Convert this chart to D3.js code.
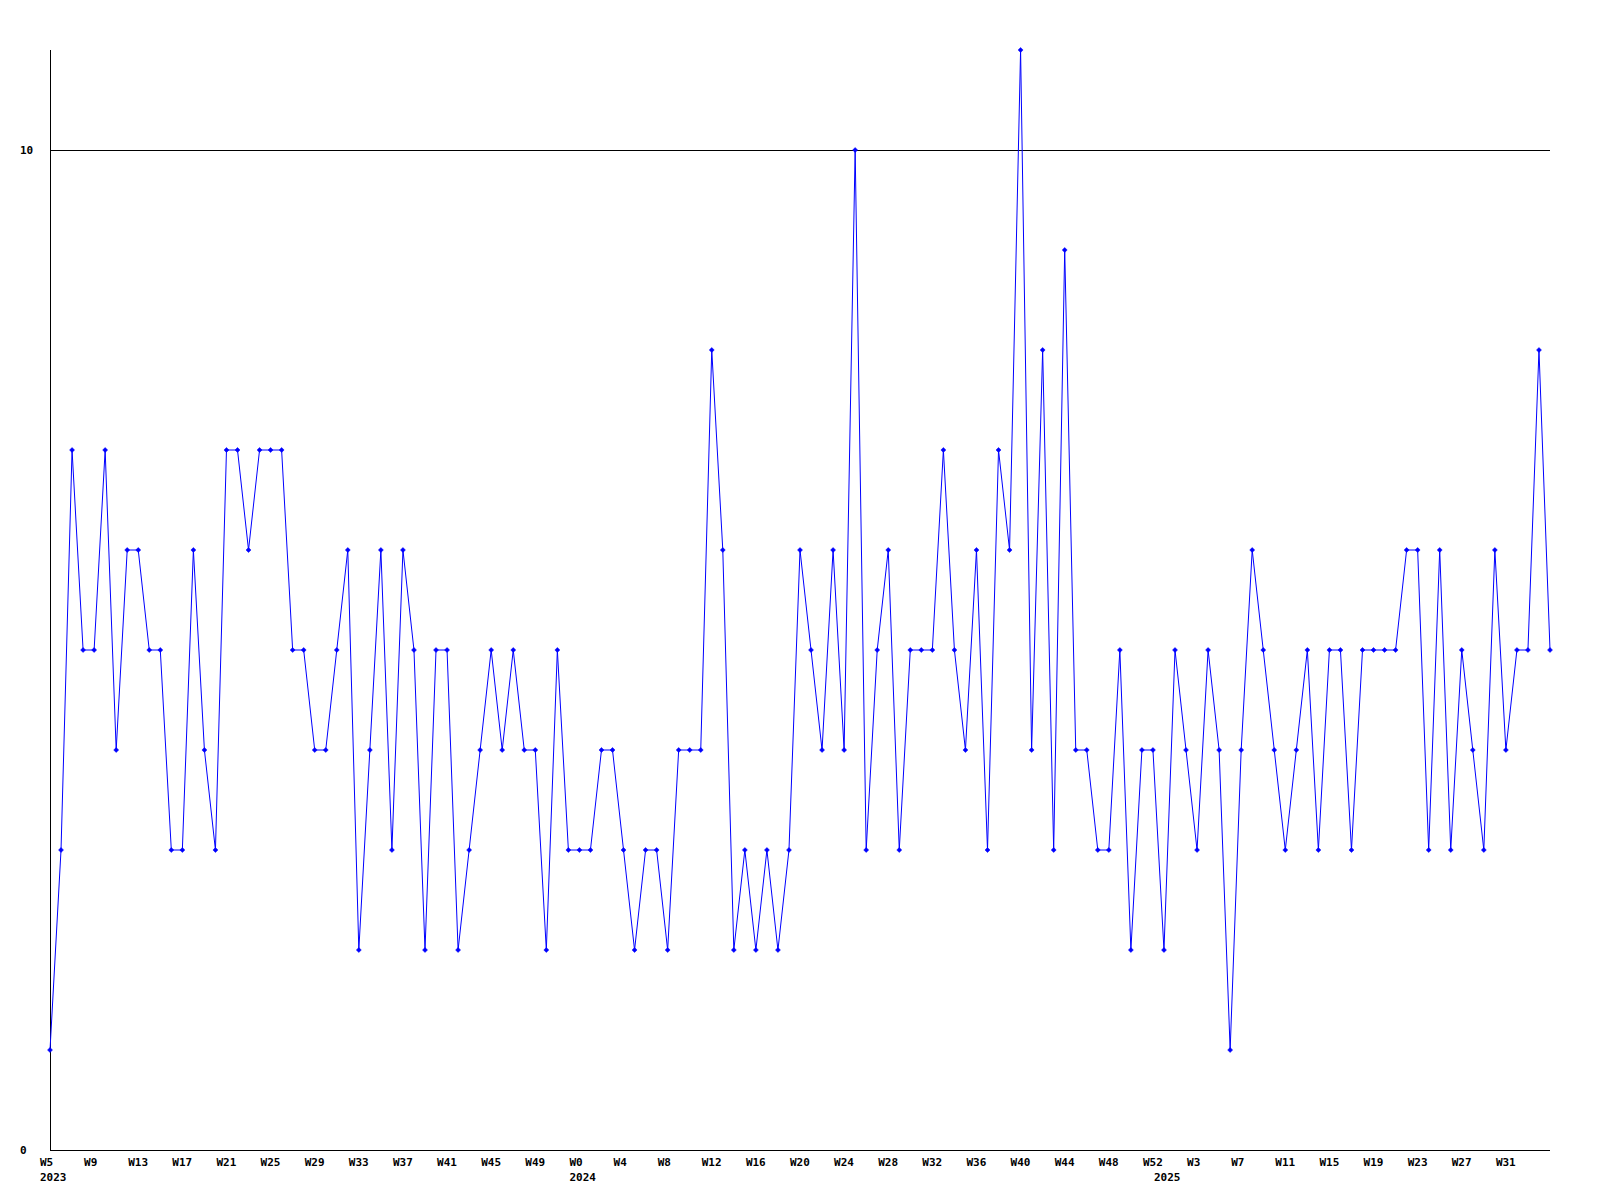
<!DOCTYPE html>
<html>
<head>
<meta charset="utf-8">
<script src="https://cdn.jsdelivr.net/npm/d3@7"></script>
<style>
  html, body { margin: 0; padding: 0; background: #fff; }
  svg { display: block; }
  text { font-family: "DejaVu Sans Mono", "Liberation Mono", monospace; font-weight: bold; font-size: 11px; fill: #000; }
</style>
</head>
<body>
<script>
// ---- Data ----
const years2023Weeks = d3.range(5, 53);   // 2023 W5..W52
const years2024Weeks = d3.range(0, 53);   // 2024 W0..W52
const years2025Weeks = d3.range(0, 36);   // 2025 W0..W35

const weekYears = [].concat(
  years2023Weeks.map(() => 2023),
  years2024Weeks.map(() => 2024),
  years2025Weeks.map(() => 2025)
);
const weekNumbers = [].concat(years2023Weeks, years2024Weeks, years2025Weeks);

const values = [
  // 2023 W5..W52
  1,3,7,5,5,7,4,6,6,5,5,3,3,6,4,3,7,7,6,7,7,7,5,5,4,4,5,6,2,4,6,3,6,5,2,5,5,2,3,4,5,4,5,4,4,2,5,3,
  // 2024 W0..W52
  3,3,4,4,3,2,3,3,2,4,4,4,8,6,2,3,2,3,2,3,6,5,4,6,4,10,3,5,6,3,5,5,5,7,5,4,6,3,7,6,11,4,8,3,9,4,4,3,3,5,2,4,4,
  // 2025 W0..W35
  2,5,4,3,5,4,1,4,6,5,4,3,4,5,3,5,5,3,5,5,5,5,6,6,3,6,3,5,4,3,6,4,5,5,8,5
];

const yTickValues = [0, 10];
const yTickLabels = ["0", "10"];
const xTickEvery = 4;

// ---- Layout ----
const W = 1600, H = 1200;
const mLeft = 50, mRight = 1550, mTop = 50, mBottom = 1150;

const keys = values.map((v, i) => weekYears[i] + "-W" + weekNumbers[i]);

const svg = d3.select("body").append("svg").attr("width", W).attr("height", H);

const x = d3.scalePoint().domain(keys).range([mLeft, mRight]);
const y = d3.scaleLinear().domain([0, 11]).range([mBottom, mTop]);

// gridline at 10
svg.append("g").selectAll("line").data(yTickValues.filter(v => v > 0)).join("line")
  .attr("x1", mLeft).attr("x2", mRight)
  .attr("y1", d => Math.round(y(d)) + 0.5).attr("y2", d => Math.round(y(d)) + 0.5)
  .attr("stroke", "#000").attr("stroke-width", 1).attr("shape-rendering", "crispEdges");

// axes lines
svg.append("line").attr("x1", mLeft + 0.5).attr("x2", mLeft + 0.5).attr("y1", mTop).attr("y2", mBottom + 0.5)
  .attr("stroke", "#000").attr("stroke-width", 1).attr("shape-rendering", "crispEdges");
svg.append("line").attr("x1", mLeft).attr("x2", mRight).attr("y1", mBottom + 0.5).attr("y2", mBottom + 0.5)
  .attr("stroke", "#000").attr("stroke-width", 1).attr("shape-rendering", "crispEdges");

// y labels
svg.append("g").selectAll("text").data(yTickValues).join("text")
  .attr("x", 20).attr("y", d => y(d) + 4)
  .text((d, i) => yTickLabels[i]);

// x labels (last point has no room for a label)
const tickIdx = d3.range(0, keys.length - 1, xTickEvery);
svg.append("g").selectAll("text").data(tickIdx).join("text")
  .attr("x", i => x(keys[i]) - 10).attr("y", mBottom + 16)
  .text(i => "W" + weekNumbers[i]);

// year labels at first week of each year
const yearStarts = keys.map((k, i) => i).filter(i => i === 0 || weekYears[i] !== weekYears[i - 1]);
svg.append("g").selectAll("text").data(yearStarts).join("text")
  .attr("x", i => x(keys[i]) - 10).attr("y", mBottom + 31)
  .text(i => weekYears[i]);

// line
const line = d3.line().x((d, i) => x(keys[i])).y(d => y(d));
svg.append("path").datum(values)
  .attr("d", line).attr("fill", "none").attr("stroke", "#0000ff").attr("stroke-width", 1);

// markers
svg.append("g").selectAll("path").data(values).join("path")
  .attr("transform", (d, i) => `translate(${x(keys[i])},${y(d)})`)
  .attr("d", "M-2.5,0L0,-2.5L2.5,0L0,2.5Z")
  .attr("fill", "#0000ff").attr("stroke", "#0000ff").attr("stroke-width", 0.5);
</script>
</body>
</html>
